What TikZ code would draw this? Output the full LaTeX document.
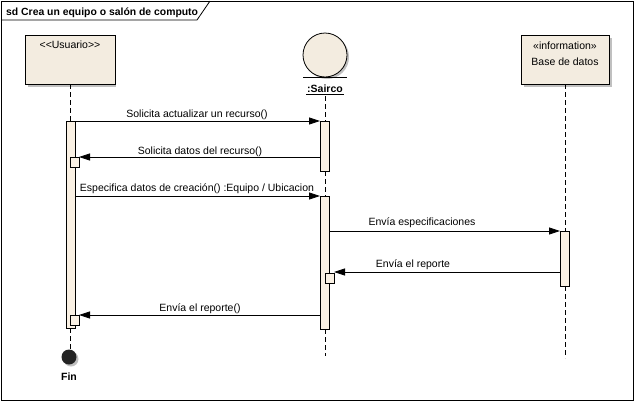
\documentclass[tikz,border=0pt]{standalone}
\usepackage{fontspec}
\setmainfont{Liberation Sans}
\usetikzlibrary{arrows.meta}
\definecolor{boxfill}{RGB}{243,236,224}
\definecolor{actfill}{RGB}{250,241,228}
\definecolor{shadowc}{RGB}{192,192,192}
\definecolor{finc}{RGB}{35,35,35}
\begin{document}
\begin{tikzpicture}[x=1pt,y=-1pt,
  font=\fontsize{10.5}{12}\selectfont,
  headbox/.style={draw=black, fill=boxfill, line width=0.8pt, minimum width=88pt, minimum height=49pt, anchor=north west, inner sep=0pt},
  shad/.style={fill=shadowc, draw=none, minimum width=88pt, minimum height=49pt, anchor=north west, inner sep=0pt},
  actbar/.style={draw=black, fill=actfill, line width=0.7pt, minimum width=9pt, anchor=north west, inner sep=0pt},
  smallbox/.style={draw=black, fill=actfill, line width=0.7pt, minimum width=9pt, minimum height=10pt, anchor=north west, inner sep=0pt},
  life/.style={draw=black, line width=0.8pt, dash pattern=on 5pt off 3pt},
  msg/.style={draw=black, line width=0.8pt, -{Triangle[length=11pt,width=7pt]}},
  lbl/.style={inner sep=0pt, anchor=base}
]
\useasboundingbox (0,0) rectangle (635,402);
\fill[white] (0,0) rectangle (635,402);

% frame
\draw[line width=1pt] (1,1) rectangle (633,400);
\draw[line width=0.8pt] (1,20) -- (197,20) -- (210,1);
\node[lbl, anchor=base west, font=\fontsize{10.4}{12}\selectfont\bfseries] (title) at (6,15) {sd Crea un equipo o salón de computo};

% Usuario head
\node[shad] (usrsh) at (28,38) {};
\node[headbox, minimum width=90pt] (usr) at (25,35) {};
\node[lbl] (usrt) at (70,48) {<\kern0pt<Usuario>\kern0pt>};

% Sairco head
\fill[shadowc] (327,57) circle (22);
\node[circle, draw=black, fill=boxfill, line width=0.8pt, minimum size=44pt, inner sep=0pt] (sai) at (325,55) {};
\draw[line width=0.8pt] (303,77) -- (347,77);
\node[lbl, font=\fontsize{10.5}{12}\selectfont\bfseries] (sait) at (325,92) {:Sairco};
\draw[line width=0.7pt] (306,94) -- (344,94);

% Base de datos head
\node[shad] (bdsh) at (524,38) {};
\node[headbox] (bd) at (521,35) {};
\node[lbl] (bdt1) at (565,49) {«information»};
\node[lbl] (bdt2) at (565,65) {Base de datos};

% lifelines
\coordinate (uL0) at (70,84);  \coordinate (uL1) at (70,121);
\coordinate (uL2) at (70,328); \coordinate (uL3) at (70,350);
\coordinate (sL0) at (325,96); \coordinate (sL1) at (325,121);
\coordinate (sL2) at (325,171); \coordinate (sL3) at (325,196);
\coordinate (sL4) at (325,329); \coordinate (sL5) at (325,356);
\coordinate (bL0) at (565,84); \coordinate (bL1) at (565,231);
\coordinate (bL2) at (565,286); \coordinate (bL3) at (565,358);
\draw[life] (uL0) -- (uL1);
\draw[life] (uL2) -- (uL3);
\draw[life] (sL0) -- (sL1);
\draw[life] (sL2) -- (sL3);
\draw[life] (sL4) -- (sL5);
\draw[life] (bL0) -- (bL1);
\draw[life] (bL2) -- (bL3);

% activation bars
\node[actbar, minimum height=207pt] (aU) at (66,121) {};
\node[actbar, minimum height=50pt] (aS1) at (320,121) {};
\node[actbar, minimum height=133pt] (aS2) at (320,196) {};
\node[actbar, minimum height=55pt] (aB) at (560,231) {};
\node[smallbox] (bU1) at (70,157) {};
\node[smallbox] (bS1) at (325,273) {};
\node[smallbox] (bU2) at (70,315) {};

% message end points
\coordinate (m1a) at (75,121);  \coordinate (m1b) at (320,121);
\coordinate (m2a) at (320,157); \coordinate (m2b) at (79,157);
\coordinate (m3a) at (75,196);  \coordinate (m3b) at (320,196);
\coordinate (m4a) at (329,231); \coordinate (m4b) at (560,231);
\coordinate (m5a) at (560,272); \coordinate (m5b) at (334,272);
\coordinate (m6a) at (320,315); \coordinate (m6b) at (79,315);

\draw[msg] (m1a) -- (m1b);
\draw[msg] (m2a) -- (m2b);
\draw[msg] (m3a) -- (m3b);
\draw[msg] (m4a) -- (m4b);
\draw[msg] (m5a) -- (m5b);
\draw[msg] (m6a) -- (m6b);

\node[lbl] (l1) at (197,117) {Solicita actualizar un recurso()};
\node[lbl] (l2) at (200,154) {Solicita datos del recurso()};
\node[lbl] (l3) at (197,191) {Especifica datos de creación() :Equipo / Ubicacion};
\node[lbl] (l4) at (422,225) {Envía especificaciones};
\node[lbl] (l5) at (413,267) {Envía el reporte};
\node[lbl] (l6) at (200,311) {Envía el reporte()};

% Fin
\fill[shadowc] (71,359) circle (7.5);
\node[circle, fill=finc, minimum size=15pt, inner sep=0pt] (fin) at (69,357) {};
\node[lbl, font=\fontsize{10.5}{12}\selectfont\bfseries] (fint) at (69,380) {Fin};
\end{tikzpicture}
\end{document}
